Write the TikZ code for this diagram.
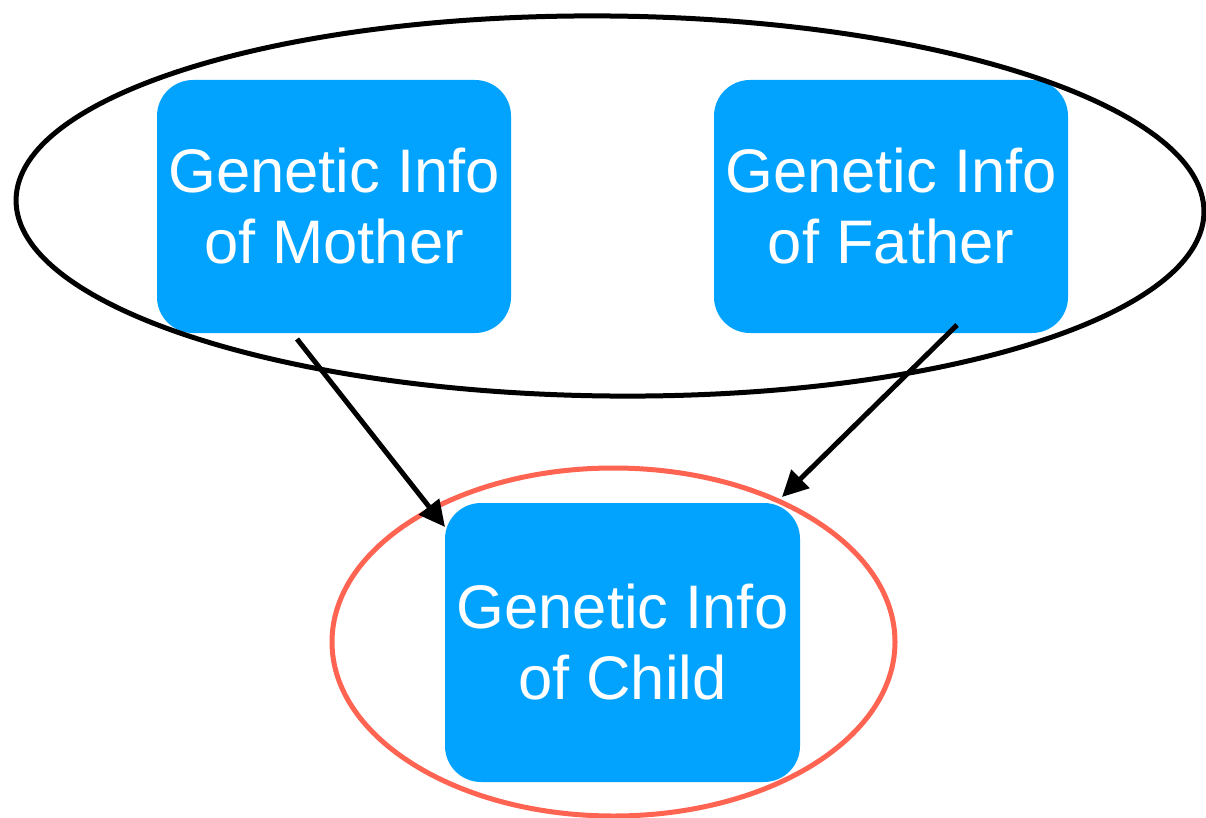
\documentclass[tikz,border=0pt]{standalone}
\usepackage{fontspec}
\setmainfont{Liberation Sans}
\usetikzlibrary{shapes.geometric,arrows.meta}
\definecolor{boxblue}{RGB}{2,163,254}
\definecolor{ringred}{RGB}{255,100,82}
\tikzset{
  infobox/.style={draw=none,fill=boxblue,rounded corners=36pt,text=white,align=center,
    minimum width=354pt,inner sep=0pt,outer sep=0pt,
    font=\fontsize{61.5}{71}\selectfont},
  ring/.style={ellipse,draw,line width=5pt,inner sep=0pt,outer sep=0pt},
  arr/.style={line width=5pt,-{Triangle[length=26pt,width=25pt]}}
}
\begin{document}
\begin{tikzpicture}[x=1pt,y=-1pt]
\useasboundingbox (0,0) rectangle (1206,818);
\node[infobox,minimum height=253pt] (mother) at (334,206.5) {Genetic Info\\of Mother};
\node[infobox,minimum height=253pt] (father) at (891,206.5) {Genetic Info\\of Father};
\node[infobox,minimum width=355pt,minimum height=279pt] (child) at (622.5,642.5) {Genetic Info\\of Child};
\node[ring,draw=black,minimum width=1188pt,minimum height=380pt,rotate=-0.6] (parents) at (610,206) {};
\node[ring,draw=ringred,minimum width=563pt,minimum height=348pt] (offspring) at (613.5,642) {};
\draw[arr] ([shift={(140,6)}]mother.south west) -- ([shift={(0,24)}]child.north west);
\draw[arr] ([shift={(243,-8)}]father.south west) -- ([shift={(-18,-6)}]child.north east);
\end{tikzpicture}
\end{document}
